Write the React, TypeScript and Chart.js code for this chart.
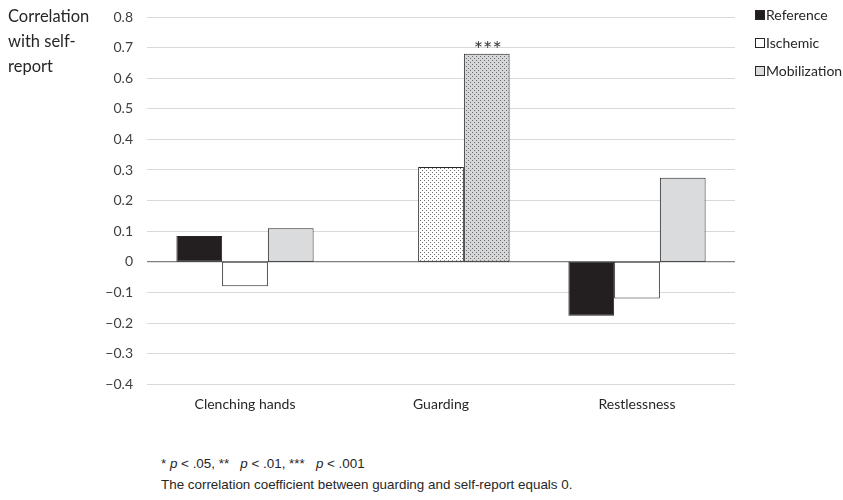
import React, { useEffect, useRef } from "react";
import { Chart, registerables } from "chart.js";

Chart.register(...registerables);

const categories = ["Clenching hands", "Guarding", "Restlessness"];
const seriesNames = ["Reference", "Ischemic", "Mobilization"];
const referenceValues = [0.084, 0, -0.176];
const ischemicValues = [-0.08, 0.31, -0.12];
const mobilizationValues = [0.11, 0.68, 0.275];
const significance = [["", "", ""], ["", "", ""], ["", "***", ""]];
const yTitleLines = ["Correlation", "with self-", "report"];
const yMin = -0.4;
const yMax = 0.8;
const yStep = 0.1;

const FONT = "Lato, 'Open Sans', sans-serif";

function makePattern(bg: string, dot: string): CanvasPattern | string {
  const c = document.createElement("canvas");
  c.width = 4;
  c.height = 4;
  const x = c.getContext("2d");
  if (!x) return bg;
  x.fillStyle = bg;
  x.fillRect(0, 0, 4, 4);
  x.fillStyle = dot;
  x.fillRect(0, 0, 1, 1);
  x.fillRect(2, 2, 1, 1);
  const p = x.createPattern(c, "repeat");
  return p || bg;
}

export default function App() {
  const ref = useRef<HTMLCanvasElement | null>(null);

  useEffect(() => {
    if (!ref.current) return;
    const whiteDots = makePattern("#ffffff", "#6a6a6a");
    const grayDots = makePattern("#d6d7d8", "#6a6a6a");
    const solidColors = ["#231f20", "#ffffff", "#dadbdc"];

    const extras = {
      id: "extras",
      afterDraw(chart: any) {
        const ctx = chart.ctx;
        ctx.save();
        // y title
        ctx.fillStyle = "#262626";
        ctx.font = `16.5px ${FONT}`;
        ctx.textAlign = "left";
        ctx.textBaseline = "middle";
        yTitleLines.forEach((t, i) => ctx.fillText(t, 8, 17 + i * 25));
        // legend
        ctx.font = `14px ${FONT}`;
        seriesNames.forEach((name, i) => {
          const y = 15 + i * 28;
          ctx.fillStyle = solidColors[i];
          ctx.fillRect(755.5, y - 4.5, 9, 9);
          ctx.strokeStyle = "#262626";
          ctx.lineWidth = 1;
          ctx.strokeRect(755.5, y - 4.5, 9, 9);
          ctx.fillStyle = "#262626";
          ctx.fillText(name, 766, y);
        });
        // significance
        ctx.font = `22px ${FONT}`;
        ctx.textAlign = "center";
        ctx.textBaseline = "alphabetic";
        significance.forEach((row, di) => {
          const meta = chart.getDatasetMeta(di);
          row.forEach((s, ci) => {
            if (!s) return;
            const el = meta.data[ci];
            const m = ctx.measureText(s);
            const targetCenter = el.y - 9;
            const base = targetCenter + (m.actualBoundingBoxAscent - m.actualBoundingBoxDescent) / 2;
            ctx.fillStyle = "#404040";
            ctx.fillText(s, el.x + 1, base);
          });
        });
        ctx.restore();
      },
    };

    const chart = new Chart(ref.current, {
      type: "bar",
      data: {
        labels: categories,
        datasets: [
          {
            label: seriesNames[0],
            data: referenceValues,
            backgroundColor: solidColors[0],
          },
          {
            label: seriesNames[1],
            data: ischemicValues,
            backgroundColor: [solidColors[1], whiteDots, solidColors[1]],
          },
          {
            label: seriesNames[2],
            data: mobilizationValues,
            backgroundColor: [solidColors[2], grayDots, solidColors[2]],
          },
        ].map((d) => ({
          ...d,
          borderColor: "#262626",
          borderWidth: 1,
          borderSkipped: false,
          categoryPercentage: 0.7,
          barPercentage: 1,
        })) as any,
      },
      options: {
        responsive: false,
        animation: false,
        layout: { padding: { top: 17, right: 108, bottom: 8, left: 0 } },
        plugins: { legend: { display: false }, tooltip: { enabled: false } },
        scales: {
          x: {
            grid: { display: false, drawTicks: false },
            border: { display: false },
            ticks: { padding: 12, color: "#262626", font: { family: FONT, size: 14 } },
          },
          y: {
            min: yMin,
            max: yMax,
            afterFit(scale: any) {
              scale.width = 147;
              scale.paddingTop = 0;
              scale.paddingBottom = 0;
            },
            grid: {
              drawTicks: false,
              color: (c: any) => (c.tick && Math.abs(c.tick.value) < 1e-9 ? "#7f7f7f" : "#d9d9d9"),
              lineWidth: (c: any) => (c.tick && Math.abs(c.tick.value) < 1e-9 ? 1.3 : 1),
            },
            border: { display: false },
            ticks: {
              stepSize: yStep,
              padding: 14,
              color: "#404040",
              font: { family: FONT, size: 14 },
              callback: (v: any) => {
                const n = Math.round(Number(v) * 10) / 10;
                if (n === 0) return "0";
                return (n < 0 ? "\u2212" : "") + Math.abs(n).toFixed(1);
              },
            },
          },
        },
      },
      plugins: [extras],
    });
    return () => chart.destroy();
  }, []);

  const noteStyle: React.CSSProperties = {
    position: "absolute",
    left: 161,
    fontFamily: "'Liberation Sans', Arial, sans-serif",
    fontSize: 13.4,
    lineHeight: "16px",
    color: "#262626",
    whiteSpace: "pre",
  };

  return (
    <div style={{ position: "absolute", left: 0, top: 0, width: 843, height: 500, background: "#fff" }}>
      <canvas ref={ref} width={843} height={433} style={{ position: "absolute", left: 0, top: 0 }} />
      <div style={{ ...noteStyle, top: 456 }}>
        {"* "}<i>p</i>{" < .05, **   "}<i>p</i>{" < .01, ***   "}<i>p</i>{" < .001"}
      </div>
      <div style={{ ...noteStyle, top: 477 }}>
        The correlation coefficient between guarding and self-report equals 0.
      </div>
    </div>
  );
}
